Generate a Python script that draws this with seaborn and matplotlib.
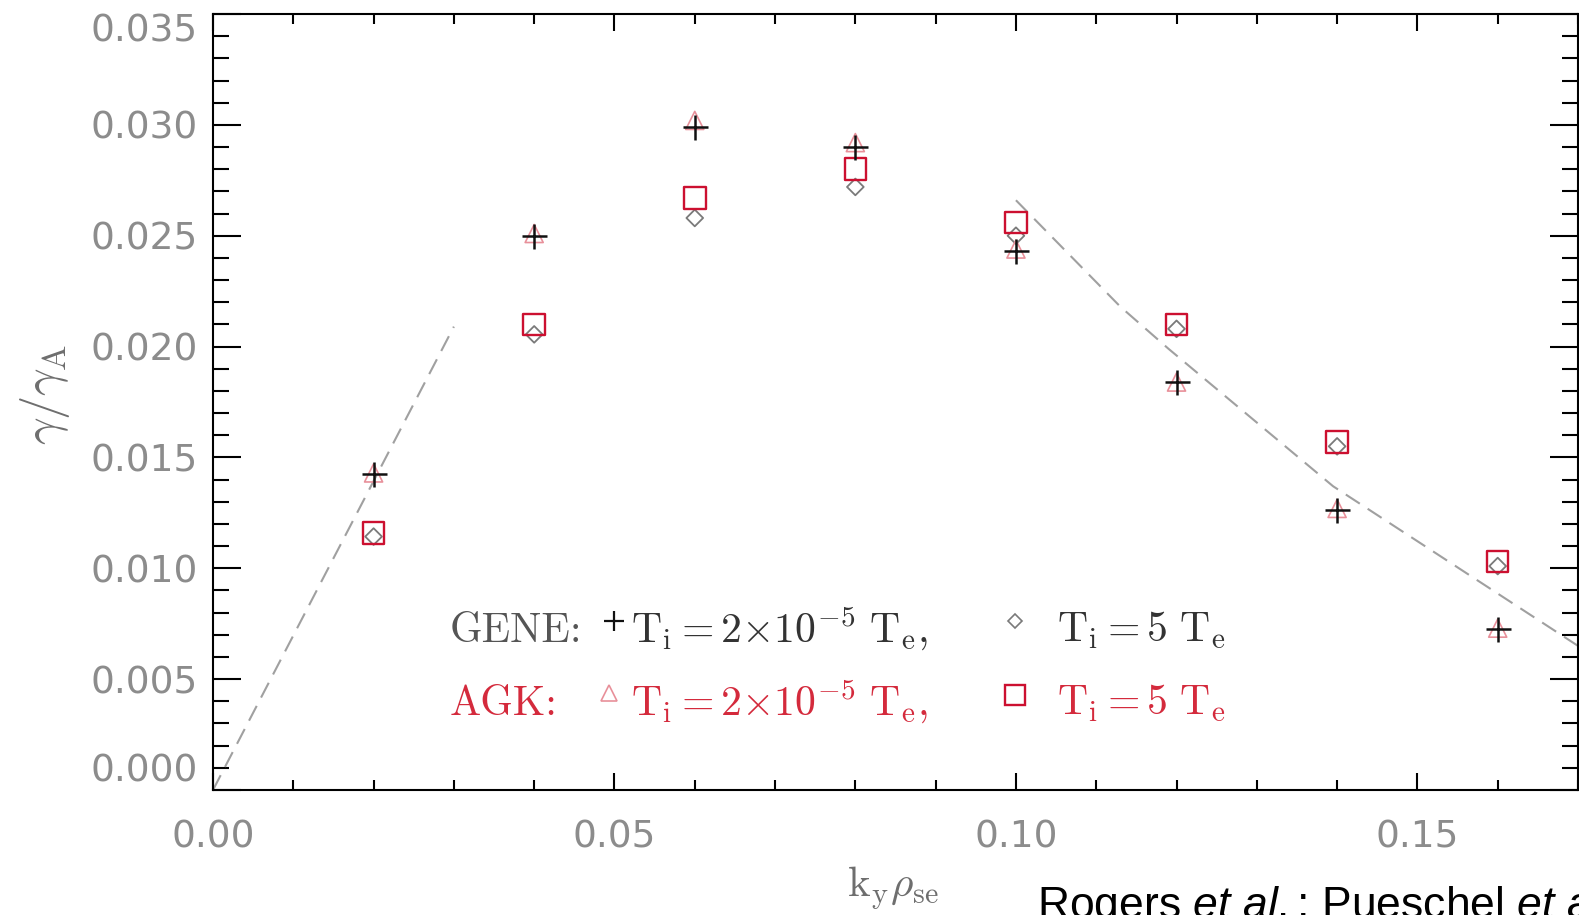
import matplotlib
matplotlib.use("Agg")
import numpy as np
import pandas as pd
import seaborn as sns
import matplotlib.pyplot as plt
from matplotlib.lines import Line2D
from matplotlib.ticker import MultipleLocator

# ---------------- data ----------------
k_values = [0.02, 0.04, 0.06, 0.08, 0.10, 0.12, 0.14, 0.16]
gene_cold = [0.01425, 0.0250, 0.0299, 0.0290, 0.0243, 0.0184, 0.01265, 0.00727]   # GENE, Ti = 2e-5 Te (+)
gene_hot = [0.01143, 0.02055, 0.0258, 0.0272, 0.0250, 0.0208, 0.0155, 0.0101]     # GENE, Ti = 5 Te (diamond)
agk_cold = [0.0143, 0.0251, 0.0302, 0.0292, 0.0244, 0.0184, 0.0127, 0.0073]       # AGK, Ti = 2e-5 Te (triangle)
agk_hot = [0.0116, 0.0210, 0.0267, 0.0280, 0.0256, 0.0210, 0.0157, 0.0103]        # AGK, Ti = 5 Te (square)

guide_low_k = [0.0, 0.030]
guide_low_g = [0.0, 0.0209]
guide_high_k = [0.100, 0.113, 0.119, 0.1395, 0.170]
guide_high_g = [0.0266, 0.0218, 0.0199, 0.0137, 0.0065]

x_ticks = [0.00, 0.05, 0.10, 0.15]
x_tick_labels = ["0.00", "0.05", "0.10", "0.15"]
y_ticks = [0.000, 0.005, 0.010, 0.015, 0.020, 0.025, 0.030, 0.035]
y_tick_labels = ["0.000", "0.005", "0.010", "0.015", "0.020", "0.025", "0.030", "0.035"]

df = pd.DataFrame({"k": k_values, "gene_cold": gene_cold, "gene_hot": gene_hot,
                   "agk_cold": agk_cold, "agk_hot": agk_hot})
g_low = pd.DataFrame({"k": guide_low_k, "g": guide_low_g})
g_high = pd.DataFrame({"k": guide_high_k, "g": guide_high_g})

# ---------------- style ----------------
sns.set_style("white")
plt.rcParams["font.family"] = ["DejaVu Sans"]
plt.rcParams["mathtext.fontset"] = "cm"
plt.rcParams["mathtext.rm"] = "Liberation Sans"
plt.rcParams["mathtext.it"] = "Liberation Sans:italic"

W, H = 1579, 915
fig = plt.figure(figsize=(W / 100, H / 100), dpi=100)
fig.patch.set_facecolor("white")
ax = fig.add_axes([213 / W, 1 - 790 / H, 1365 / W, 776 / H])
ax.set_facecolor("white")

def fx(x):
    return x / W

def fy(y):
    return 1 - y / H

# guide lines
dash_kw = dict(color="#a0a0a0", linewidth=1.5, dashes=(8, 4.5))
sns.lineplot(data=g_low, x="k", y="g", ax=ax, sort=False, estimator=None, **dash_kw)
sns.lineplot(data=g_high, x="k", y="g", ax=ax, sort=False, estimator=None, **dash_kw)

# markers
sns.scatterplot(data=df, x="k", y="gene_hot", ax=ax, marker="D", s=8.5 ** 2,
                facecolors="none", edgecolor="#7a7a7a", linewidth=1.3, zorder=3)
sns.scatterplot(data=df, x="k", y="agk_cold", ax=ax, marker="^", s=13 ** 2,
                facecolors="none", edgecolor="#e8909a", linewidth=1.2, zorder=3)
sns.scatterplot(data=df, x="k", y="agk_hot", ax=ax, marker="s", s=15.5 ** 2,
                facecolors="none", edgecolor="#cc1030", linewidth=1.7, zorder=4)
sns.scatterplot(data=df, x="k", y="gene_cold", ax=ax, marker="+", s=18 ** 2,
                color="#111111", linewidth=1.8, zorder=5)

# axes
ax.set_xlim(0, 0.17)
ax.set_ylim(0, 0.035)
ax.set_xticks(x_ticks)
ax.set_xticklabels(x_tick_labels)
ax.set_yticks(y_ticks)
ax.set_yticklabels(y_tick_labels)
ax.xaxis.set_minor_locator(MultipleLocator(0.01))
ax.yaxis.set_minor_locator(MultipleLocator(0.001))
ax.set_xlabel("")
ax.set_ylabel("")
for sp in ax.spines.values():
    sp.set_visible(True)
    sp.set_color("black")
    sp.set_linewidth(1.5)

tick_col = "#8c8c8c"
ax.tick_params(axis="x", which="major", direction="in", length=12, width=1.5,
               top=True, bottom=True, pad=21, labelsize=27, labelcolor=tick_col, color="black")
ax.tick_params(axis="x", which="minor", direction="in", length=7, width=1.5,
               top=True, bottom=True, color="black")
ax.tick_params(axis="y", which="major", direction="in", length=20, width=1.5,
               left=True, right=True, pad=11, labelsize=27, labelcolor=tick_col, color="black")
ax.tick_params(axis="y", which="minor", direction="in", length=11.5, width=1.5,
               left=True, right=True, color="black")
ylabs = ax.get_yticklabels()
ylabs[0].set_verticalalignment("bottom")
ylabs[-1].set_verticalalignment("top")

# axis labels
fig.text(fx(45), fy(395), r"$\gamma/\gamma_{\mathrm{A}}$", rotation=90, ha="center", va="center",
         fontsize=35, color="#6e6e6e")
fig.text(fx(893), fy(888), r"$\mathrm{k_y}\rho_{\mathrm{se}}$", ha="center", va="center",
         fontsize=31, color="#6e6e6e")

# in-plot legend text
gene_col = "#333333"
agk_col = "#d42a3c"
fs = 30
fig.text(fx(450), fy(642), "GENE:", family="cmr10", color="#555555", fontsize=fs, va="baseline")
fig.text(fx(631), fy(642), r"$\mathrm{T_i = 2{\times}10^{-5}\ T_{e},}$", color=gene_col,
         fontsize=fs, va="baseline")
fig.text(fx(1057), fy(642), r"$\mathrm{T_i = 5\ T_e}$", color=gene_col, fontsize=fs, va="baseline")
fig.text(fx(450), fy(715), "AGK:", family="cmr10", color=agk_col, fontsize=fs, va="baseline")
fig.text(fx(631), fy(715), r"$\mathrm{T_i = 2{\times}10^{-5}\ T_{e},}$", color=agk_col,
         fontsize=fs, va="baseline")
fig.text(fx(1057), fy(715), r"$\mathrm{T_i = 5\ T_e}$", color=agk_col, fontsize=fs, va="baseline")

legend_syms = [
    (614, 621, "+", 15, "#111111", 1.6),
    (1015, 621, "D", 7.5, "#7a7a7a", 1.2),
    (609, 693, "^", 11, "#e8909a", 1.2),
    (1015, 695, "s", 14, "#cc1030", 1.7),
]
for (sx, sy, m, ms, c, lw) in legend_syms:
    fig.add_artist(Line2D([fx(sx)], [fy(sy)], transform=fig.transFigure, marker=m,
                          markersize=ms, markerfacecolor="none", markeredgecolor=c,
                          markeredgewidth=lw, linestyle="none"))

# citation text (runs off the right edge, as in the reference)
fig.text(fx(1037), fy(884), r"Rogers $\mathit{et\ al.}$; Pueschel $\mathit{et\ al.}$",
         family="Liberation Sans", math_fontfamily="custom", fontsize=32, color="black",
         va="top", ha="left")

fig.savefig("out.png", dpi=100, facecolor="white")
